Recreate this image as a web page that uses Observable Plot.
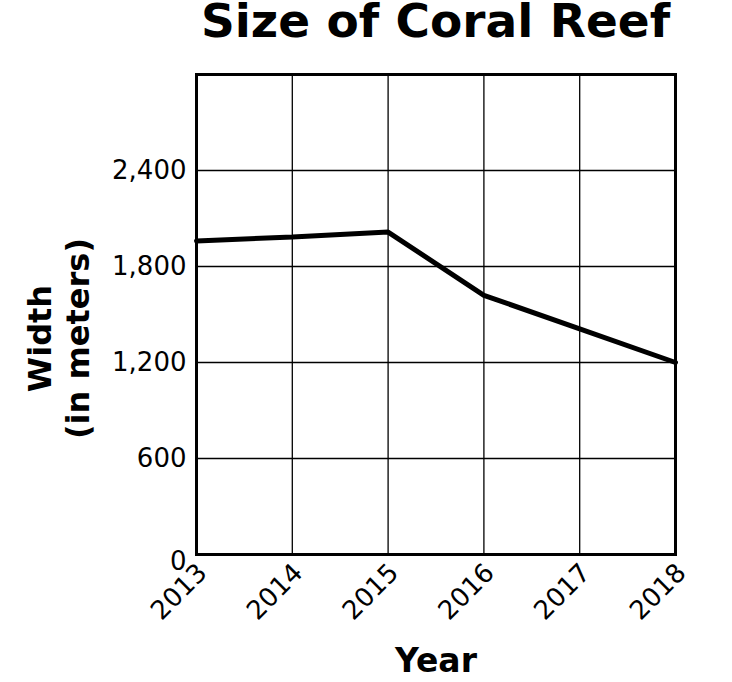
<!DOCTYPE html>
<html>
<head>
<meta charset="utf-8">
<script src="https://cdn.jsdelivr.net/npm/d3@7"></script>
<script src="https://cdn.jsdelivr.net/npm/@observablehq/plot@0.6"></script>
<style>
  html, body { margin: 0; padding: 0; background: #fff; }
  #wrap { width: 732px; font-family: "DejaVu Sans", Verdana, sans-serif; color: #000; }
  #title { position: relative; height: 70px; }
  #title span { position: absolute; left: 196px; width: 479px; top: 0; text-align: center;
    font-size: 47px; font-weight: bold; white-space: nowrap; line-height: 42px; }
  svg { display: block; }
</style>
</head>
<body>
<div id="wrap">
  <div id="title"><span>Size of Coral Reef</span></div>
  <div id="chart"></div>
</div>
<script>
const years = [2013, 2014, 2015, 2016, 2017, 2018];
const widths = [1960, 1985, 2015, 1620, 1410, 1200];
const yTicks = [600, 1200, 1800, 2400];
const yZeroTick = [0];
const yGrid = [0, 600, 1200, 1800, 2400, 3000];
const yLabel = "Width\n(in meters)";
const xLabel = "Year";

const data = years.map((y, i) => ({year: y, width: widths[i]}));

const chart = Plot.plot({
  width: 732,
  height: 612,
  marginTop: 4,
  marginBottom: 128,
  marginLeft: 196,
  marginRight: 57,
  style: {fontFamily: "DejaVu Sans, Verdana, sans-serif", color: "#000", background: "#fff"},
  x: {domain: [2013, 2018]},
  y: {domain: [0, 3000]},
  marks: [
    Plot.gridX(years, {stroke: "#000", strokeOpacity: 1, strokeWidth: 1.3}),
    Plot.gridY(yGrid, {stroke: "#000", strokeOpacity: 1, strokeWidth: 1.3}),
    Plot.line(data, {x: "year", y: "width", stroke: "#000", strokeWidth: 5, strokeLinejoin: "miter"}),
    Plot.frame({stroke: "#000", strokeWidth: 3}),
    Plot.axisY({ticks: yTicks, tickSize: 0, tickPadding: 10, tickFormat: d3.format(","), fontSize: 26, label: null}),
    Plot.axisY({ticks: yZeroTick, tickSize: 0, tickPadding: 10, dy: 7, tickFormat: d3.format(","), fontSize: 26, label: null}),
    Plot.axisX({ticks: years, tickSize: 0, tickPadding: 14, dx: 6, tickFormat: "d", tickRotate: -45, fontSize: 26, label: null}),
    Plot.text([yLabel], {frameAnchor: "left", textAnchor: "middle", dx: -139, dy: 24, rotate: -90, fontSize: 32, fontWeight: "bold", lineHeight: 1.2, fill: "#000"}),
    Plot.text([xLabel], {frameAnchor: "bottom", dy: 117, fontSize: 33, fontWeight: "bold", fill: "#000"})
  ]
});
document.getElementById("chart").appendChild(chart);
</script>
</body>
</html>
